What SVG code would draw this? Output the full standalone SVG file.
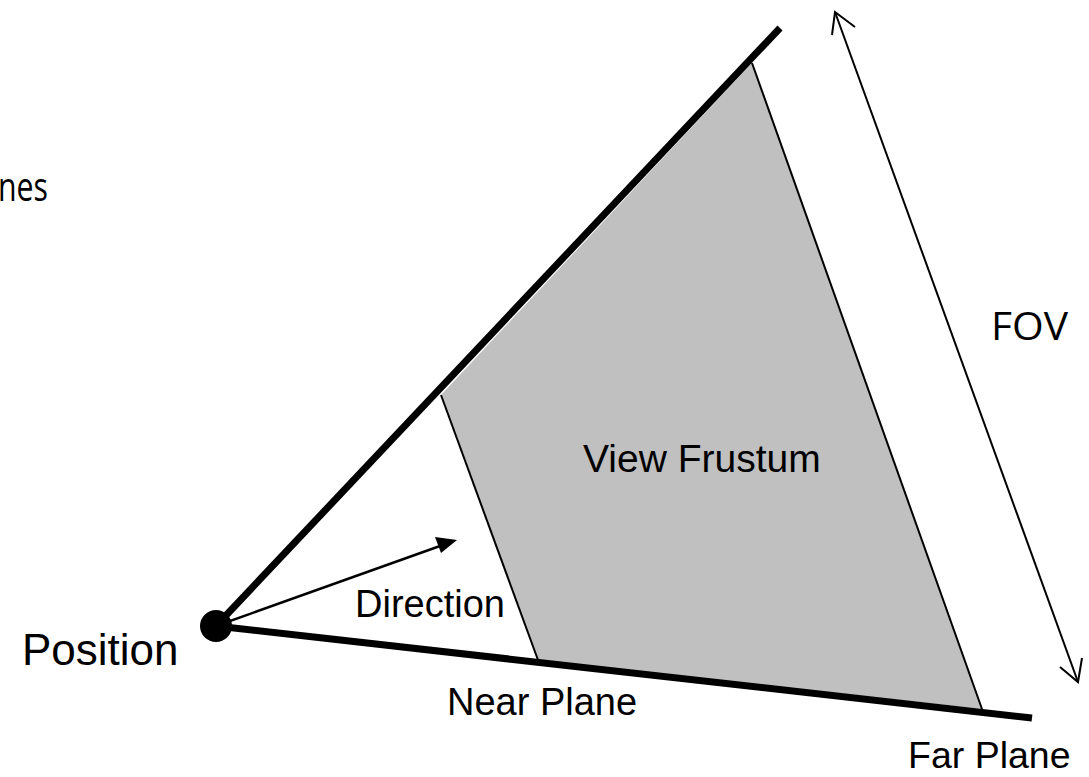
<svg xmlns="http://www.w3.org/2000/svg" width="1089" height="777" viewBox="0 0 1089 777">
<style>
.thick{stroke:#000;stroke-width:7;stroke-linecap:butt;fill:none}
.thin{stroke:#000;stroke-width:2;fill:none}
.lbl{font-family:"Liberation Sans",Arial,sans-serif;fill:#000}
.cal{font-family:"Open Sans","Liberation Sans",sans-serif;fill:#000}
</style>
<rect width="1089" height="777" fill="#fff"/>
<g id="frustum">
<polygon points="441,395 752,63 982,709 538,660" fill="#c0c0c0"/>
<line class="thin" x1="441" y1="395" x2="538" y2="660"/>
<line class="thin" x1="752" y1="63" x2="982" y2="709"/>
</g>
<g id="connectors">
<line class="thick" x1="216" y1="626" x2="780" y2="28"/>
<line class="thick" x1="216" y1="626" x2="1032" y2="718"/>
<line stroke="#000" stroke-width="2.5" x1="216" y1="626" x2="440" y2="546"/>
<polygon points="457,540 435,537 441,553" fill="#000"/>
<line class="thin" x1="835" y1="12" x2="1078" y2="682"/>
<polyline class="thin" points="832,35 835,12 855,27"/>
<polyline class="thin" points="1060,667 1078,682 1082,658"/>
</g>
<g id="position">
<circle cx="216" cy="626" r="16" fill="#000"/>
<text class="lbl" x="22" y="665" font-size="44">Position</text>
</g>
<g id="labels">
<text class="cal" x="-2" y="201" font-size="40" textLength="50" lengthAdjust="spacingAndGlyphs">nes</text>
<text class="cal" x="991" y="340" font-size="38" textLength="77" lengthAdjust="spacingAndGlyphs">FOV</text>
<text class="lbl" x="583" y="472" font-size="39">View Frustum</text>
<text class="lbl" x="355" y="617" font-size="38">Direction</text>
<text class="lbl" x="447" y="715" font-size="38">Near Plane</text>
<text class="lbl" x="908" y="768" font-size="37.5">Far Plane</text>
</g>
</svg>
